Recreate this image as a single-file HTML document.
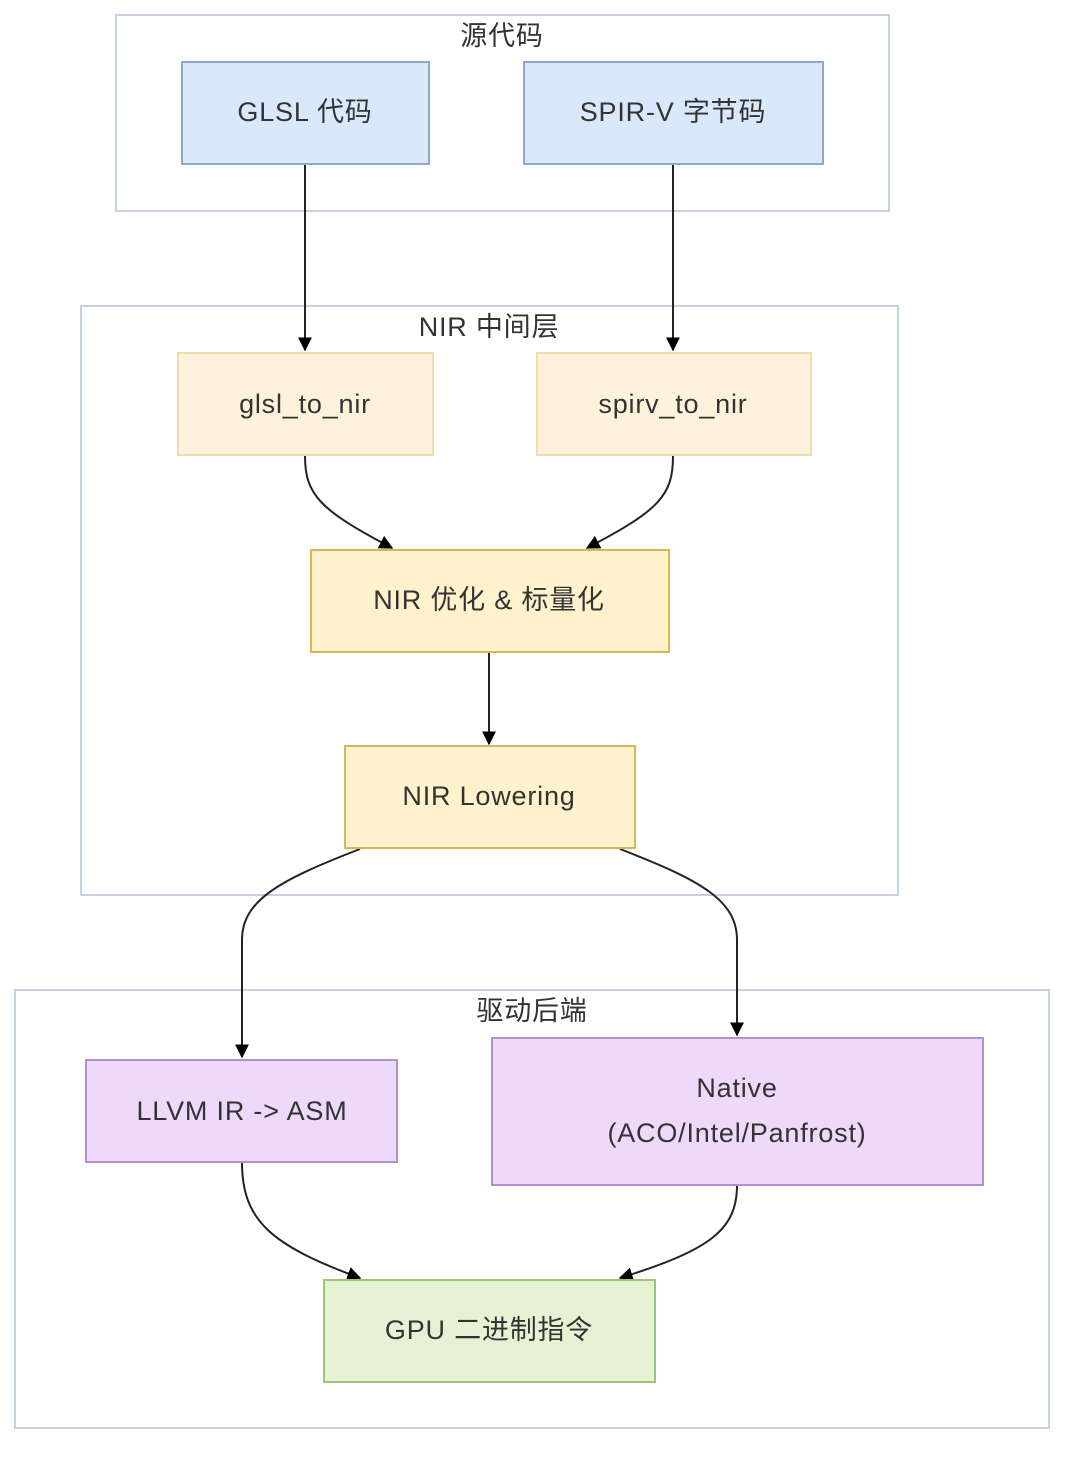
<!DOCTYPE html>
<html><head><meta charset="utf-8"><style>
html,body{margin:0;padding:0;background:#fff;}
text{font-family:"Liberation Sans","Noto Sans CJK SC",sans-serif;font-size:27px;fill:#333;text-anchor:middle;dominant-baseline:central;letter-spacing:0.8px;}
</style></head><body>
<svg width="1080" height="1463" viewBox="0 0 1080 1463" xmlns="http://www.w3.org/2000/svg">
<defs>
<marker id="b" viewBox="0 0 10 10" refX="9" refY="5" markerWidth="14" markerHeight="14" markerUnits="userSpaceOnUse" orient="auto"><path d="M0,0L10,5L0,10z" fill="#000"/></marker></defs>
<g fill="#fff" stroke="#c5d0e3" stroke-width="2">
<rect x="116" y="15" width="773" height="196"/>
<rect x="81" y="306" width="817" height="589"/>
<rect x="15" y="990" width="1034" height="438"/>
</g>
<text x="502" y="36">源代码</text>
<text x="489" y="327">NIR 中间层</text>
<text x="532" y="1011">驱动后端</text>
<g fill="none" stroke="#222" stroke-width="2">
<path d="M305,165V350" marker-end="url(#b)"/>
<path d="M673,165V350" marker-end="url(#b)"/>
<path d="M305,456C305,495 320,510 392,548" marker-end="url(#b)"/>
<path d="M673,456C673,495 660,510 587,548" marker-end="url(#b)"/>
<path d="M489,652V744" marker-end="url(#b)"/>
<path d="M360,849C280,880 242,900 242,940V1057" marker-end="url(#b)"/>
<path d="M620,849C700,880 737,900 737,940V1035" marker-end="url(#b)"/>
<path d="M242,1162C242,1220 270,1245 360,1278" marker-end="url(#b)"/>
<path d="M737,1185C737,1230 710,1250 620,1278" marker-end="url(#b)"/>
</g>
<rect x="182" y="62" width="247" height="102" fill="#dae8fc" stroke="#8fa8cf" stroke-width="2"/>
<rect x="524" y="62" width="299" height="102" fill="#dae8fc" stroke="#8fa8cf" stroke-width="2"/>
<rect x="178" y="353" width="255" height="102" fill="#fff2dc" stroke="#f0dcb0" stroke-width="2"/>
<rect x="537" y="353" width="274" height="102" fill="#fff2dc" stroke="#f0dcb0" stroke-width="2"/>
<rect x="311" y="550" width="358" height="102" fill="#fff2cc" stroke="#d6b656" stroke-width="2"/>
<rect x="345" y="746" width="290" height="102" fill="#fff2cc" stroke="#d6b656" stroke-width="2"/>
<rect x="86" y="1060" width="311" height="102" fill="#eed9fb" stroke="#b48fcf" stroke-width="2"/>
<rect x="492" y="1038" width="491" height="147" fill="#eed9fb" stroke="#b48fcf" stroke-width="2"/>
<rect x="324" y="1280" width="331" height="102" fill="#e6f2d4" stroke="#9cc47a" stroke-width="2"/>
<text x="305" y="112">GLSL 代码</text>
<text x="673" y="112">SPIR-V 字节码</text>
<text x="305" y="404">glsl_to_nir</text>
<text x="673" y="404">spirv_to_nir</text>
<text x="489" y="600">NIR 优化 &amp; 标量化</text>
<text x="489" y="796">NIR Lowering</text>
<text x="242" y="1111">LLVM IR -&gt; ASM</text>
<text x="737" y="1088">Native</text>
<text x="737" y="1133">(ACO/Intel/Panfrost)</text>
<text x="489" y="1330">GPU 二进制指令</text>
</svg>
</body></html>
